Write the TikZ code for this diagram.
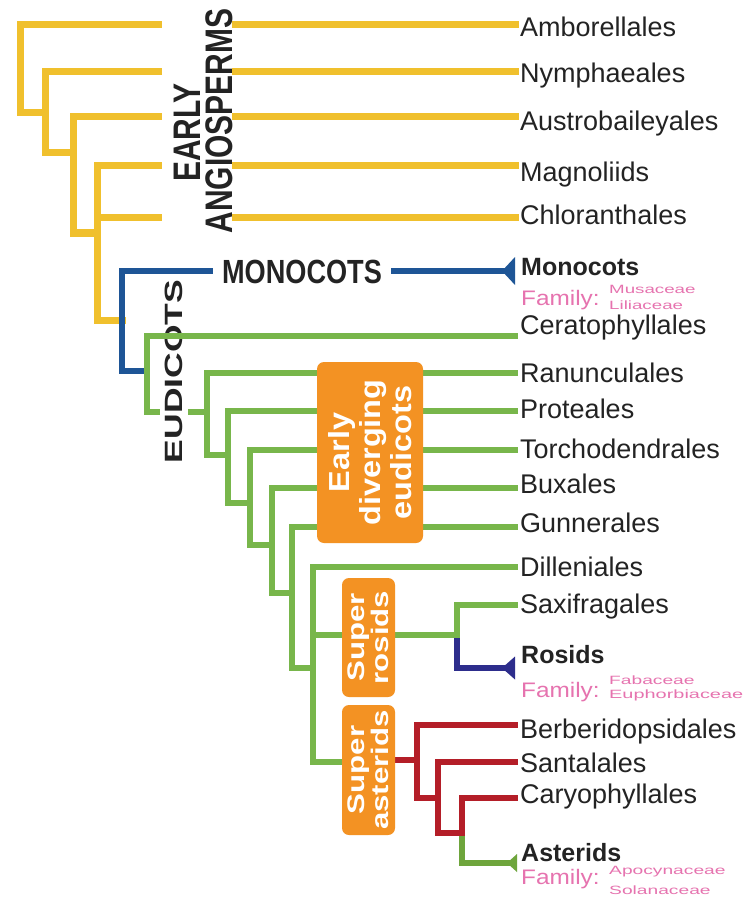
\documentclass[tikz,border=0pt]{standalone}
\usepackage{fontspec}
\setmainfont{Liberation Sans}
\usetikzlibrary{arrows.meta}
\definecolor{cY}{RGB}{240,192,45}
\definecolor{cB}{RGB}{30,85,150}
\definecolor{cG}{RGB}{120,182,75}
\definecolor{cN}{RGB}{45,45,140}
\definecolor{cR}{RGB}{180,30,40}
\definecolor{cAG}{RGB}{110,165,60}
\definecolor{cO}{RGB}{243,146,35}
\definecolor{cT}{RGB}{35,35,35}
\definecolor{cP}{RGB}{230,115,175}
\tikzset{
  ln/.style={line width=6pt, line cap=rect, line join=miter},
  ylw/.style={ln, draw=cY, line width=7pt},
  blu/.style={ln, draw=cB},
  grn/.style={ln, draw=cG},
  nav/.style={ln, draw=cN},
  rdl/.style={ln, draw=cR},
  agr/.style={ln, draw=cAG},
  tipA/.style={-{Triangle[reversed,length=13pt,width=28pt,line width=0pt]}},
  tipB/.style={-{Triangle[reversed,length=13pt,width=23pt,line width=0pt]}},
  tipC/.style={-{Triangle[reversed,length=10pt,width=18pt,line width=0pt]}},
  leaf/.style={anchor=base west, inner sep=0pt, text=cT, font=\fontsize{27}{27}\selectfont},
  bleaf/.style={anchor=base west, inner sep=0pt, text=cT, font=\bfseries\fontsize{25}{25}\selectfont},
  fam/.style={anchor=base west, inner sep=0pt, text=cP, font=\fontsize{21}{21}\selectfont},
  fname/.style={anchor=base west, inner sep=0pt, text=cP, font=\fontsize{12}{12}\selectfont},
  obox/.style={rotate=90, fill=cO, rounded corners=7pt, text=white, inner sep=0pt, align=center},
}
\begin{document}
\begin{tikzpicture}[x=1pt,y=-1pt]
\useasboundingbox (0,0) rectangle (749,909);
\fill[white] (0,0) rectangle (749,909);

% ---------- leaf labels ----------
\node[leaf] (amb) at (520,37) {Amborellales};
\node[leaf] (nym) at (520,83) {Nymphaeales};
\node[leaf] (aus) at (520,131) {Austrobaileyales};
\node[leaf] (mag) at (520,182) {Magnoliids};
\node[leaf] (chl) at (520,225) {Chloranthales};
\node[bleaf] (mon) at (521,275) {Monocots};
\node[fam] (fm1) at (521,305) {\scalebox{1.16}[1]{Family:}};
\node[fname] (mus) at (609,293) {\scalebox{1.56}[1]{Musaceae}};
\node[fname] (lil) at (609,309) {\scalebox{1.56}[1]{Liliaceae}};
\node[leaf] (cer) at (520,334) {Ceratophyllales};
\node[leaf] (ran) at (520,382) {Ranunculales};
\node[leaf] (pro) at (520,418) {Proteales};
\node[leaf] (tor) at (520,458) {Torchodendrales};
\node[leaf] (bux) at (520,493) {Buxales};
\node[leaf] (gun) at (520,532) {Gunnerales};
\node[leaf] (dil) at (520,576) {Dilleniales};
\node[leaf] (sax) at (520,613) {Saxifragales};
\node[bleaf] (ros) at (521,663) {Rosids};
\node[fam] (fm2) at (521,697) {\scalebox{1.16}[1]{Family:}};
\node[fname] (fab) at (609,684) {\scalebox{1.6}[1]{Fabaceae}};
\node[fname] (eup) at (609,698) {\scalebox{1.66}[1]{Euphorbiaceae}};
\node[leaf] (ber) at (520,738) {Berberidopsidales};
\node[leaf] (san) at (520,772) {Santalales};
\node[leaf] (car) at (520,803) {Caryophyllales};
\node[bleaf] (ast) at (521,861) {Asterids};
\node[fam] (fm3) at (521,884) {\scalebox{1.16}[1]{Family:}};
\node[fname] (apo) at (609,874) {\scalebox{1.6}[1]{Apocynaceae}};
\node[fname] (sol) at (609,894) {\scalebox{1.6}[1]{Solanaceae}};

% ---------- line ends and joints ----------
\coordinate (eAmb) at (515,25);  \coordinate (eNym) at (515,72);
\coordinate (eAus) at (515,117); \coordinate (eMag) at (515,166);
\coordinate (eChl) at (515,218); \coordinate (eMon) at (515,271);
\coordinate (eCer) at (515,336); \coordinate (eRan) at (515,373);
\coordinate (ePro) at (515,411); \coordinate (eTor) at (515,450);
\coordinate (eBux) at (515,488); \coordinate (eGun) at (515,527);
\coordinate (eDil) at (515,567); \coordinate (eSax) at (515,605);
\coordinate (eRos) at (515,668); \coordinate (eBer) at (515,725);
\coordinate (eSan) at (515,762); \coordinate (eCar) at (515,798);
\coordinate (eAst) at (517,863);
% gap edges around the EARLY ANGIOSPERMS label
\coordinate (ga1) at (158,25);  \coordinate (gb1) at (235,25);
\coordinate (ga2) at (158,72);  \coordinate (gb2) at (235,72);
\coordinate (ga3) at (158,117); \coordinate (gb3) at (235,117);
\coordinate (ga4) at (158,166); \coordinate (gb4) at (235,166);
\coordinate (ga5) at (158,218); \coordinate (gb5) at (235,218);
% joints
\coordinate (y1) at (20,113);  \coordinate (y2) at (45,153);
\coordinate (y3) at (73,233);  \coordinate (y4) at (97,320);
\coordinate (b1) at (122,371);
\coordinate (g1) at (147,412); \coordinate (g2) at (207,455);
\coordinate (g3) at (228,503); \coordinate (g4) at (250,545);
\coordinate (g5) at (272,593); \coordinate (g6) at (292,668);
\coordinate (g7) at (313,762); \coordinate (srj) at (457,635);
\coordinate (ra) at (417,760);
\coordinate (r1) at (417,798); \coordinate (r2) at (438,833);
\coordinate (r3) at (462,833);

% ---------- yellow: early angiosperms ----------
\draw[ylw] (ga1) -| (y1) -- (y1 -| y2);
\draw[ylw] (ga2) -| (y2) -- (y2 -| y3);
\draw[ylw] (ga3) -| (y3) -- (y3 -| y4);
\draw[ylw] (ga4) -| (y4) -- (y4 -| b1);
\draw[ylw] (ga5) -- (ga5 -| y4);
\foreach \i/\e in {1/eAmb,2/eNym,3/eAus,4/eMag,5/eChl}
  \draw[ylw] (gb\i) -- (\e);

\node[rotate=90, inner sep=0pt, text height=27.5pt, text depth=0pt, text=cT,
  font=\bfseries\fontsize{38.4}{38.4}\selectfont] (early) at (186.5,132.5) {\scalebox{0.78}[1]{EARLY}};
\node[rotate=90, inner sep=0pt, text height=27.5pt, text depth=0pt, text=cT,
  font=\bfseries\fontsize{38.4}{38.4}\selectfont] (angio) at (219,121) {\scalebox{0.78}[1]{ANGIOSPERMS}};

% ---------- blue: monocots ----------
\node[inner xsep=11.5pt, inner ysep=0pt, text height=24pt, text depth=0pt, text=cT,
  font=\bfseries\fontsize{33.5}{33.5}\selectfont] (mono) at (302,271) {\scalebox{0.81}[1]{MONOCOTS}};
\draw[blu] (mono.west) -| (b1) -- (b1 -| g1);
\draw[blu, tipA] (mono.east) -- (eMon);

% ---------- green: eudicots ----------
\draw[grn] (g1) -- (g1 -| g2);
\node[rotate=90, fill=white, inner sep=5pt, text height=17.9pt, text depth=0pt, text=cT,
  font=\bfseries\fontsize{25}{25}\selectfont] (eudi) at (174,371.5) {\scalebox{1.42}[1]{EUDICOTS}};
\draw[grn] (eCer) -| (g1);
\draw[grn] (eRan) -| (g2) -- (g2 -| g3);
\draw[grn] (ePro) -| (g3) -- (g3 -| g4);
\draw[grn] (eTor) -| (g4) -- (g4 -| g5);
\draw[grn] (eBux) -| (g5) -- (g5 -| g6);
\draw[grn] (eGun) -| (g6) -- (g6 -| g7);
\draw[grn] (eDil) -| (g7) -- (g7 -| 342,0);
\draw[nav, tipB] (srj) |- (eRos);
\draw[grn] (g7 |- srj) -- (srj);
\draw[grn] (eSax) -| (srj);

% ---------- red: asterids ----------
\draw[rdl] (ra -| 395,0) -- (ra);
\draw[rdl] (eBer) -| (r1) -- (r1 -| r2);
\draw[rdl] (eSan) -| (r2) -- (r2 -| r3);
\draw[agr, tipC] (r3) |- (eAst);
\draw[rdl] (eCar) -| (r3);

% ---------- orange boxes ----------
\node[obox, minimum width=181pt, minimum height=106pt,
  font=\bfseries\fontsize{29}{31}\selectfont] (edbox) at (370,452.5)
  {\scalebox{1.12}[1]{Early}\\\scalebox{1.12}[1]{diverging}\\\scalebox{1.12}[1]{eudicots}};
\node[obox, minimum width=119pt, minimum height=53pt,
  font=\bfseries\fontsize{24}{24}\selectfont] (srbox) at (368.5,637.5)
  {\scalebox{1.3}[1]{Super}\\\scalebox{1.3}[1]{rosids}};
\node[obox, minimum width=130pt, minimum height=53pt,
  font=\bfseries\fontsize{24}{24}\selectfont] (sabox) at (368.5,770)
  {\scalebox{1.3}[1]{Super}\\\scalebox{1.3}[1]{asterids}};
\end{tikzpicture}
\end{document}
